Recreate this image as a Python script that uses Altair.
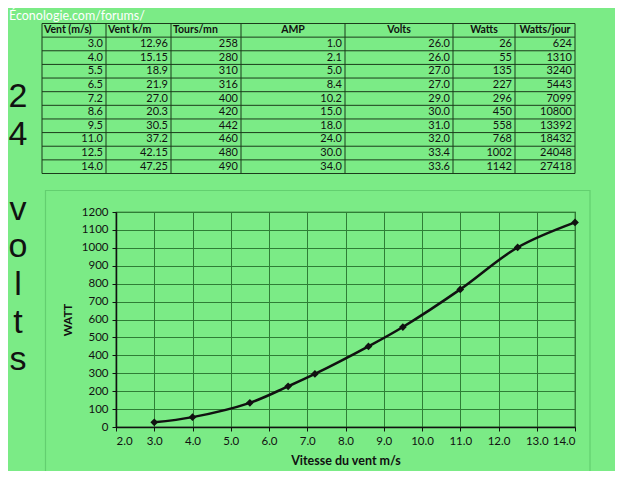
import altair as alt
import pandas as pd

# ---------------- data ----------------
vent_ms = [3.0, 4.0, 5.5, 6.5, 7.2, 8.6, 9.5, 11.0, 12.5, 14.0]
vent_kmh = ["12.96", "15.15", "18.9", "21.9", "27.0", "20.3", "30.5", "37.2", "42.15", "47.25"]
tours_mn = ["258", "280", "310", "316", "400", "420", "442", "460", "480", "490"]
amp = ["1.0", "2.1", "5.0", "8.4", "10.2", "15.0", "18.0", "24.0", "30.0", "34.0"]
volts = ["26.0", "26.0", "27.0", "27.0", "29.0", "30.0", "31.0", "32.0", "33.4", "33.6"]
watts = [26, 55, 135, 227, 296, 450, 558, 768, 1002, 1142]
watts_jour = ["624", "1310", "3240", "5443", "7099", "10800", "13392", "18432", "24048", "27418"]
headers = ["Vent (m/s)", "Vent k/m", "Tours/mn", "AMP", "Volts", "Watts", "Watts/jour"]
side_text = "24 volts"
site_title = "Éconologie.com/forums/"
x_title = "Vitesse du vent m/s"
y_title = "WATT"
x_ticks = [2.0, 3.0, 4.0, 5.0, 6.0, 7.0, 8.0, 9.0, 10.0, 11.0, 12.0, 13.0, 14.0]
y_ticks = [0, 100, 200, 300, 400, 500, 600, 700, 800, 900, 1000, 1100, 1200]

# ---------------- layout / style ----------------
BG = "#7BEB86"
INK = "#111111"
GRID = "#2f7d36"
FONT = "Lato"
PL, PT = 116, 212          # plot origin on the page (px)
W, H = 459, 215            # plot size
SX = alt.Scale(domain=[0, 640], range=[-PL, 640 - PL], zero=False, nice=False)
SY = alt.Scale(domain=[0, 481], range=[-PT, 481 - PT], zero=False, nice=False)
col_edges = [42, 106, 171, 241, 345, 453, 515, 575]
tab_top, tab_bottom = 23.5, 173.5
n_rows = len(vent_ms) + 1
row_h = (tab_bottom - tab_top) / n_rows

def xs(f="x"):
    return alt.X(f + ":Q", scale=SX, axis=None)

def ys(f="y"):
    return alt.Y(f + ":Q", scale=SY, axis=None)

# ---------------- main chart ----------------
df = pd.DataFrame({"v": vent_ms, "w": watts})
xenc = alt.X("v:Q", scale=alt.Scale(domain=[2, 14], nice=False, zero=False),
             axis=alt.Axis(values=x_ticks, format=".1f", title=x_title,
                           grid=True, gridColor=GRID, gridWidth=1, domainColor=INK,
                           domainWidth=1.5, tickColor=INK, tickSize=4, labelPadding=4,
                           labelFontSize=11.5, labelColor=INK, labelFont=FONT,
                           labelOverlap=False,
                           titleFont=FONT, titleFontSize=12.5, titleFontWeight="bold",
                           titleColor=INK, titlePadding=8))
yenc = alt.Y("w:Q", scale=alt.Scale(domain=[0, 1200], nice=False),
             axis=alt.Axis(values=y_ticks, format="d", title=y_title,
                           grid=True, gridColor=GRID, gridWidth=1, domainColor=INK,
                           domainWidth=1.5, tickColor=INK, tickSize=4, labelPadding=4,
                           labelFontSize=11.5, labelColor=INK, labelFont=FONT,
                           labelOverlap=False,
                           titleFont=FONT, titleFontSize=11.5, titleFontWeight="bold",
                           titleColor=INK, titlePadding=8))
line = alt.Chart(df).mark_line(color=INK, strokeWidth=2.5, interpolate="catmull-rom").encode(x=xenc, y=yenc)
pts = alt.Chart(df).mark_point(shape="diamond", filled=True, color=INK, size=60, opacity=1).encode(x=xenc, y=yenc)
main = alt.layer(line, pts)

# ---------------- outer chart frame ----------------
frame = alt.Chart(pd.DataFrame({"x": [45.5], "x2": [590], "y": [190.5], "y2": [478]})).mark_rect(
    fill=None, stroke="#63cf70", strokeWidth=1.2).encode(x=xs(), x2="x2:Q", y=ys(), y2="y2:Q")

# ---------------- table ----------------
hl = pd.DataFrame({"x": [col_edges[0]] * (n_rows + 1), "x2": [col_edges[-1]] * (n_rows + 1),
                   "y": [tab_top + row_h * i for i in range(n_rows + 1)]})
vl = pd.DataFrame({"x": col_edges, "y": [tab_top] * len(col_edges),
                   "y2": [tab_bottom] * len(col_edges)})
hrules = alt.Chart(hl).mark_rule(color="#1b3b1b", strokeWidth=1).encode(x=xs(), x2="x2:Q", y=ys())
vrules = alt.Chart(vl).mark_rule(color="#1b3b1b", strokeWidth=1).encode(x=xs(), y=ys(), y2="y2:Q")

hy = tab_top + row_h * 0.5
head_left = pd.DataFrame({"x": [col_edges[i] + 2 for i in range(3)], "y": [hy] * 3, "t": headers[:3]})
head_center = pd.DataFrame({"x": [(col_edges[i] + col_edges[i + 1]) / 2 for i in range(3, 7)],
                            "y": [hy] * 4, "t": headers[3:]})
cols = [[f"{v:.1f}" for v in vent_ms], vent_kmh, tours_mn, amp, volts, [str(w) for w in watts], watts_jour]
cells = []
for c, vals in enumerate(cols):
    for r, t in enumerate(vals):
        cells.append({"x": col_edges[c + 1] - 3, "y": tab_top + row_h * (r + 1.5), "t": t})
cells = pd.DataFrame(cells)

th_l = alt.Chart(head_left).mark_text(align="left", baseline="middle", font=FONT, fontSize=10.5,
                                      fontWeight="bold", color=INK).encode(x=xs(), y=ys(), text="t:N")
th_c = alt.Chart(head_center).mark_text(align="center", baseline="middle", font=FONT, fontSize=10.5,
                                        fontWeight="bold", color=INK).encode(x=xs(), y=ys(), text="t:N")
td = alt.Chart(cells).mark_text(align="right", baseline="middle", font=FONT, fontSize=11,
                                color=INK).encode(x=xs(), y=ys(), text="t:N")

# ---------------- side text & site title ----------------
side = pd.DataFrame({"t": list(side_text), "x": [18] * len(side_text),
                     "y": [107 + 37.6 * i for i in range(len(side_text))]})
side_txt = alt.Chart(side).mark_text(align="center", baseline="alphabetic", font="Liberation Sans",
                                     fontSize=34, color=INK).encode(x=xs(), y=ys(), text="t:N")
top = alt.Chart(pd.DataFrame({"x": [9], "y": [9.5], "t": [site_title]})).mark_text(
    align="left", baseline="top", font=FONT, fontSize=12.5, color="white").encode(x=xs(), y=ys(), text="t:N")

chart = alt.layer(frame, main, hrules, vrules, th_l, th_c, td, side_txt, top).resolve_scale(
    x="independent", y="independent"
).properties(
    width=W, height=H,
    padding={"left": PL - 8, "top": PT - 8, "right": 40, "bottom": 44},
    autosize=alt.AutoSizeParams(type="none"),
    background=BG,
).configure_view(stroke="#1b3b1b", strokeWidth=1.2)

chart.save("out.html", embed_options={"renderer": "svg", "actions": False})
